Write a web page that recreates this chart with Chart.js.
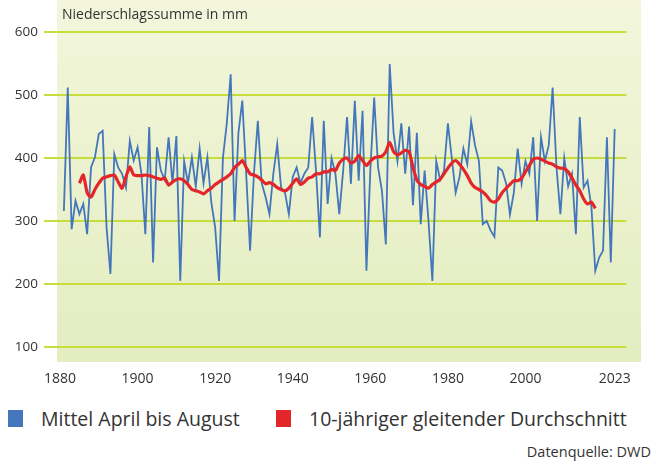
<!DOCTYPE html>
<html>
<head>
<meta charset="utf-8">
<script src="https://cdn.jsdelivr.net/npm/chart.js@4.4.1/dist/chart.umd.min.js"></script>
<style>
  body { margin: 0; background: #fff; font-family: 'Open Sans', sans-serif; color: #333; }
  #wrap { position: relative; width: 655px; height: 463px; overflow: hidden; }
  #chart { position: absolute; left: 0; top: 0; }
  .title { position: absolute; left: 62px; top: 4px; font-size: 14px; }
  .legend { position: absolute; top: 405px; font-size: 19.5px; display: flex; align-items: center; }
  .sw { width: 15px; height: 17px; margin-right: 18px; }
  .src { position: absolute; right: 4px; top: 442px; font-size: 14.5px; }
</style>
</head>
<body>
<div id="wrap">
  <canvas id="chart" width="655" height="400"></canvas>
  <div class="title">Niederschlagssumme in mm</div>
  <div class="legend" style="left:8px"><span class="sw" style="background:#4476bb"></span>Mittel April bis August</div>
  <div class="legend" style="left:276px"><span class="sw" style="background:#e3262a"></span>10-jähriger gleitender Durchschnitt</div>
  <div class="src">Datenquelle: DWD</div>
</div>
<script>
// Niederschlag April-August, 1881-2023 (mm)
const firstYear = 1881;
const meanAprAug = [
  316, 512, 287, 332, 311, 327, 279, 385, 401, 438,
  443, 290, 216, 406, 385, 375, 353, 427, 396, 417,
  375, 279, 449, 234, 417, 380, 365, 433, 360, 435,
  205, 395, 360, 401, 355, 415, 360, 401, 330, 290,
  205, 400, 455, 533, 300, 440, 491, 375, 253, 375,
  459, 360, 338, 311, 375, 422, 353, 345, 311, 370,
  385, 360, 375, 385, 465, 380, 274, 459, 327, 400,
  375, 311, 380, 465, 359, 491, 364, 475, 221, 380,
  496, 385, 348, 263, 549, 440, 395, 455, 375, 450,
  325, 440, 295, 380, 300, 205, 395, 365, 380, 455,
  400, 345, 370, 415, 390, 458, 420, 395, 295, 300,
  285, 275, 385, 380, 360, 310, 345, 415, 359, 395,
  375, 433, 300, 433, 395, 420, 512, 385, 311, 400,
  355, 375, 279, 465, 353, 364, 322, 221, 242, 253,
  433, 234, 446
];

// 10-jähriger gleitender Durchschnitt, 1885-2018
const avgStartYear = 1885;
const movingAvg = [
  360, 373, 345, 338, 350, 360, 368, 370, 372, 373,
  362, 352, 370, 386, 373, 372, 372, 373, 372, 370,
  368, 366, 368, 357, 362, 366, 367, 364, 358, 350,
  348, 346, 343, 348, 352, 358, 362, 366, 370, 375,
  385, 390, 396, 385, 375, 373, 370, 365, 359, 361,
  358, 353, 350, 348, 352, 360, 367, 358, 362, 368,
  370, 375, 375, 378, 378, 382, 380, 392, 398, 400,
  392, 395, 404, 396, 388, 395, 400, 402, 403, 410,
  425, 410, 405, 408, 412, 410, 385, 365, 358, 355,
  352, 358, 362, 366, 375, 384, 392, 396, 390, 382,
  372, 360, 353, 350, 346, 340, 332, 330, 335, 345,
  352, 358, 364, 364, 368, 378, 388, 398, 400, 398,
  395, 392, 390, 386, 384, 383, 378, 368, 357, 348,
  335, 327, 330, 320
];

const xTicks = [1880, 1900, 1920, 1940, 1960, 1980, 2000, 2023];

const gridColor = 'rgb(200, 220, 60)';

const bgPlugin = {
  id: 'bg',
  beforeDraw(chart) {
    const { ctx } = chart;
    const g = ctx.createLinearGradient(0, 0, 0, 362);
    g.addColorStop(0, 'rgb(243, 246, 220)');
    g.addColorStop(1, 'rgb(227, 237, 192)');
    ctx.save();
    ctx.fillStyle = g;
    ctx.fillRect(57, 0, 584, 362);
    ctx.restore();
  },
};

const ctx = document.getElementById('chart').getContext('2d');

new Chart(ctx, {
  type: 'line',
  data: {
    datasets: [
      {
        label: '10-jähriger gleitender Durchschnitt',
        data: movingAvg.map((v, i) => ({ x: avgStartYear + i, y: v })),
        borderColor: 'rgb(227, 38, 42)',
        borderWidth: 3.2,
        pointRadius: 0,
        tension: 0.2,
        order: 1,
      },
      {
        label: 'Mittel April bis August',
        data: meanAprAug.map((v, i) => ({ x: firstYear + i, y: v })),
        borderColor: 'rgb(68, 118, 187)',
        borderWidth: 1.8,
        pointRadius: 0,
        tension: 0,
        order: 2,
      },
    ],
  },
  options: {
    responsive: false,
    animation: false,
    layout: { padding: { top: 32, right: 15, left: 0, bottom: 0 } },
    plugins: {
      legend: { display: false },
      tooltip: { enabled: false },
    },
    scales: {
      x: {
        type: 'linear',
        min: 1880,
        max: 2026,
        afterBuildTicks: (scale) => {
          scale.ticks = xTicks.map((v) => ({ value: v }));
        },
        afterFit: (scale) => {
          scale.height = 53;
        },
        ticks: {
          padding: 24,
          autoSkip: false,
          maxRotation: 0,
          color: '#333',
          font: { size: 14, family: 'Open Sans' },
          callback: (v) => String(v),
        },
        grid: { display: false, drawTicks: false },
        border: { display: false },
      },
      y: {
        min: 100,
        max: 600,
        afterFit: (scale) => {
          scale.width = 60;
        },
        ticks: {
          stepSize: 100,
          padding: 6,
          color: '#333',
          font: { size: 13.5, family: 'Open Sans' },
        },
        grid: {
          color: gridColor,
          lineWidth: 2,
          drawTicks: true,
          tickLength: 16,
        },
        border: { display: false },
      },
    },
  },
  plugins: [bgPlugin],
});
</script>
</body>
</html>
